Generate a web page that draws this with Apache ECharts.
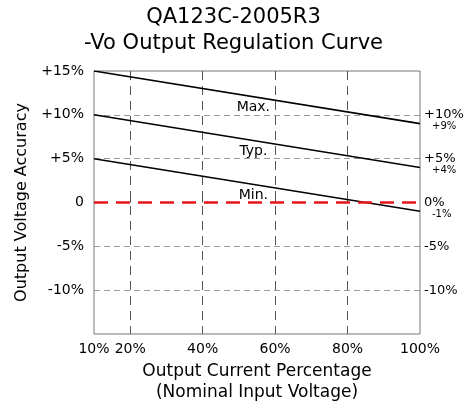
<!DOCTYPE html>
<html><head><meta charset="utf-8">
<script src="https://cdn.jsdelivr.net/npm/echarts@6/dist/echarts.min.js"></script>
<style>html,body{margin:0;padding:0;background:#fff}#c{width:467px;height:403px}</style>
</head><body><div id="c"></div>
<script>
const xLabels = [10, 20, 40, 60, 80, 100];
const xGrid = [20, 40, 60, 80];
const yLabels = [-10, -5, 0, 5, 10, 15];
const yLabelsRight = [-10, -5, 0, 5, 10];
const yGrid = [-10, -5, 5, 10];
const maxLine = [[10, 15], [100, 9]];
const typLine = [[10, 10], [100, 4]];
const minLine = [[10, 5], [100, -1]];
const zeroLine = [[10, 0], [100, 0]];
const curveNames = ['Max.', 'Typ.', 'Min.'];
const curveLabelPos = [[54, 10], [54, 5], [54, 0]];

const FONT = 'DejaVu Sans';
const signed = v => (v > 0 ? '+' : '') + v + '%';
const chart = echarts.init(document.getElementById('c'));

function curve(data, idx) {
  return {
    type: 'line', data, symbol: 'none', silent: true,
    lineStyle: { color: '#000', width: 1.6 },
    endLabel: { show: true, formatter: p => signed(p.value[1]), fontFamily: FONT, fontSize: 10, color: '#000', distance: 12, offset: [0, 3] },
    markPoint: {
      symbol: 'circle', symbolSize: 1,
      itemStyle: { color: 'transparent' },
      data: [{ coord: curveLabelPos[idx], value: curveNames[idx] }],
      label: { show: true, formatter: curveNames[idx], fontFamily: FONT, fontSize: 14, color: '#000', position: 'inside', offset: [0, -7] }
    }
  };
}

chart.setOption({
  animation: false,
  title: {
    text: 'QA123C-2005R3\n-Vo Output Regulation Curve',
    left: 'center', top: 0,
    textStyle: { fontFamily: FONT, fontSize: 21, fontWeight: 'normal', color: '#000', lineHeight: 26 }
  },
  grid: { left: 94, right: 47, top: 71, bottom: 69, show: true, borderColor: '#777', borderWidth: 1, outerBoundsMode: 'none', containLabel: false },
  xAxis: {
    type: 'value', min: 10, max: 100,
    name: 'Output Current Percentage\n(Nominal Input Voltage)',
    nameLocation: 'middle', nameGap: 25,
    nameTextStyle: { fontFamily: FONT, fontSize: 17, color: '#000', lineHeight: 21 },
    axisLine: { show: false },
    axisTick: { show: true, inside: true, customValues: xGrid, length: 4, lineStyle: { color: '#555' } },
    axisLabel: { customValues: xLabels, formatter: v => v + '%', fontFamily: FONT, fontSize: 14, color: '#000', margin: 8 },
    splitLine: { show: true, lineStyle: { color: '#555', type: [9, 6], width: 1 } }
  },
  yAxis: [{
    type: 'value', min: -15, max: 15, interval: 5,
    name: 'Output Voltage Accuracy', nameLocation: 'middle', nameGap: 64, nameRotate: 90,
    nameTextStyle: { fontFamily: FONT, fontSize: 16, color: '#000' },
    axisLine: { show: false }, axisTick: { show: false, customValues: yGrid },
    axisLabel: { customValues: yLabels, formatter: v => (v === 0 ? '0' : signed(v)), fontFamily: FONT, fontSize: 14, color: '#000', margin: 10 },
    splitLine: { show: true, lineStyle: { color: '#999', type: [6, 4], width: 1 } }
  }, {
    type: 'value', min: -15, max: 15, interval: 5, position: 'right',
    axisLine: { show: false }, axisTick: { show: false },
    axisLabel: { customValues: yLabelsRight, formatter: v => signed(v), fontFamily: FONT, fontSize: 13, color: '#000', margin: 4 },
    splitLine: { show: false }
  }],
  series: [
    curve(maxLine, 0), curve(typLine, 1), curve(minLine, 2),
    { type: 'line', data: zeroLine, symbol: 'none', silent: true, z: 3,
      lineStyle: { color: '#e8141c', width: 2.5, type: [14, 8] } }
  ]
});
</script></body></html>
